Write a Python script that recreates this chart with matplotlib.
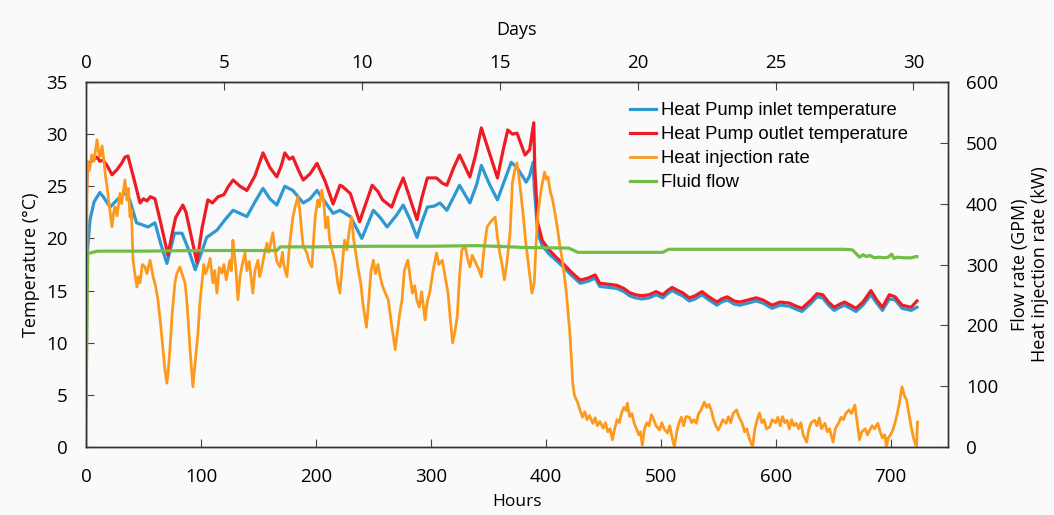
import matplotlib
matplotlib.use("Agg")
import matplotlib.pyplot as plt

plt.rcParams['font.family'] = ['Open Sans', 'DejaVu Sans']

# Heat pump outlet temperature (deg C) vs hours
red_h = [0, 0.9, 3.5, 6, 9.6, 12, 14.8, 18.3, 22.6, 27,
         31, 33.9, 36.5, 41, 47, 50, 53, 56, 60, 65,
         71.3, 75, 78, 84.3, 87, 90, 96.5, 101, 106, 110,
         115, 120, 124, 128, 134, 140, 147, 154, 160, 166,
         170, 173, 177, 180, 185, 189, 195, 201, 208, 215,
         221, 223, 230, 238, 244, 249, 254, 258, 266, 271,
         276, 282, 288, 292, 297, 305, 310, 314, 320, 325,
         334, 339, 344, 351, 358, 363, 367, 371, 375, 382,
         386, 389.6, 390.4, 393, 397, 403, 409, 415, 422, 430,
         437, 443, 447, 455, 462, 468, 473, 478, 484, 490,
         496, 502, 506, 510, 515, 519, 525, 530, 536, 542,
         549, 553, 558, 564, 569, 576, 583, 589, 597, 604,
         612, 618, 623, 627, 631, 636, 641, 646, 651, 656,
         660, 665, 670, 676, 683, 688, 693, 699, 704, 710,
         718, 723]
red_t = [22.5, 26.5, 27.3, 27.5, 27.8, 27.4, 27.5, 27.0, 26.1, 26.6,
         27.2, 27.8, 27.9, 26.0, 23.4, 23.8, 23.6, 24.0, 23.8, 21.5,
         18.4, 20.5, 22.0, 23.2, 22.5, 21.0, 17.7, 21.0, 23.7, 23.4,
         24.0, 24.2, 25.0, 25.6, 25.0, 24.6, 26.0, 28.2, 26.8, 25.9,
         27.0, 28.2, 27.6, 27.8, 26.5, 25.6, 26.2, 27.2, 25.5, 23.3,
         25.1, 25.0, 24.3, 21.6, 23.5, 25.1, 24.5, 23.7, 23.0, 24.5,
         25.8, 23.8, 21.8, 23.8, 25.8, 25.8, 25.3, 25.1, 26.8, 28.0,
         25.9, 28.0, 30.6, 28.2, 25.8, 28.5, 30.4, 30.0, 30.1, 28.0,
         28.5, 31.1, 27.0, 21.5, 19.8, 18.9, 18.2, 17.6, 16.8, 16.0,
         16.2, 16.5, 15.7, 15.6, 15.5, 15.2, 14.8, 14.6, 14.5, 14.6,
         14.9, 14.6, 15.0, 15.3, 15.0, 14.8, 14.3, 14.5, 14.9, 14.4,
         13.9, 14.2, 14.4, 14.0, 13.9, 14.1, 14.3, 14.1, 13.6, 13.9,
         13.8, 13.5, 13.3, 13.7, 14.1, 14.7, 14.6, 13.9, 13.4, 13.7,
         13.9, 13.6, 13.3, 13.9, 15.0, 14.1, 13.4, 14.6, 14.4, 13.6,
         13.4, 14.0]

# Heat pump inlet temperature (deg C) vs hours
blue_h = [0, 1, 3.5, 7, 12, 15, 21, 27, 34, 38,
          44, 49, 54, 60, 65, 70.4, 77, 83.5, 89, 95,
          100, 105, 114, 121, 128, 134, 140, 147, 154, 160,
          166, 173, 180, 189, 195, 201, 208, 215, 221, 230,
          240, 250, 256, 262, 270, 276, 282, 288, 292, 297,
          303, 308, 314, 320, 325, 334, 340, 344, 351, 358,
          364, 370, 375, 383, 386, 389, 390, 393, 397, 403,
          409, 415, 422, 430, 437, 443, 447, 455, 462, 468,
          473, 478, 484, 490, 496, 502, 506, 510, 515, 519,
          525, 530, 536, 542, 549, 553, 558, 564, 569, 576,
          583, 589, 597, 604, 612, 618, 623, 627, 631, 636,
          641, 646, 651, 656, 660, 665, 670, 676, 683, 688,
          693, 699, 704, 710, 718, 723]
blue_t = [16.3, 18.5, 21.8, 23.5, 24.4, 24.0, 23.0, 23.7, 24.4, 23.7,
          21.5, 21.3, 21.1, 21.5, 19.5, 17.6, 20.5, 20.5, 19.0, 17.0,
          18.5, 20.1, 20.8, 21.8, 22.7, 22.4, 22.1, 23.5, 24.8, 23.8,
          23.2, 25.0, 24.6, 23.4, 23.8, 24.6, 23.5, 22.4, 22.7, 22.1,
          20.0, 22.7, 22.0, 21.1, 22.2, 23.2, 21.8, 20.1, 21.5, 23.0,
          23.1, 23.4, 22.7, 24.0, 25.1, 23.4, 25.2, 27.0, 25.2, 23.7,
          25.5, 27.3, 26.8, 25.4, 26.0, 27.3, 25.0, 20.5, 19.3, 18.5,
          17.9, 17.3, 16.5, 15.7, 15.9, 16.2, 15.4, 15.3, 15.2, 14.9,
          14.5, 14.3, 14.2, 14.3, 14.6, 14.3, 14.7, 15.0, 14.7, 14.5,
          14.0, 14.2, 14.6, 14.1, 13.6, 13.9, 14.1, 13.7, 13.6, 13.8,
          14.0, 13.8, 13.3, 13.6, 13.5, 13.2, 13.0, 13.4, 13.8, 14.4,
          14.3, 13.6, 13.1, 13.4, 13.6, 13.3, 13.0, 13.6, 14.6, 13.8,
          13.1, 14.2, 14.1, 13.3, 13.1, 13.4]

# Heat injection rate (kW) vs hours
inj_h = [0, 0.5, 0.9, 3, 5, 7, 9.6, 11, 12.2, 14,
         15, 17, 18.3, 20, 22.6, 24, 25.2, 27, 29.6, 31,
         33.9, 35, 35.7, 37, 38.3, 39.5, 40.9, 42.5, 44.3, 45.5,
         47, 49, 51.3, 53, 55.7, 57, 58.3, 60.5, 62.6, 65,
         67, 68.5, 70.4, 71.5, 73, 75, 77.4, 79, 81.7, 83.5,
         86.1, 87.5, 88.7, 90.5, 93, 95, 97.4, 99, 100.9, 102.5,
         104, 106.1, 108, 110.4, 112, 113.9, 116, 118.3, 120, 122,
         125.2, 126.5, 127.8, 129, 130.5, 132.2, 134, 136, 138.3, 140,
         142, 145.2, 147, 149.6, 151, 153, 155, 157.4, 159, 162.6,
         164, 166, 168.7, 171, 172, 174.8, 177, 180, 182, 184.3,
         186, 187.8, 189, 192.2, 194, 196.5, 198, 199.5, 201.7, 203,
         205.2, 207, 208.5, 210.4, 212, 214.8, 217, 219, 220.9, 223,
         225, 227, 229, 231, 233, 236.5, 239, 241, 244, 246,
         248, 250, 252, 254, 256, 258, 260, 263, 266, 269,
         271, 273, 275, 277, 280, 282, 284, 286, 288, 290,
         292, 295, 297, 299, 302, 305, 307, 310, 312, 315,
         317, 319, 321, 323, 325, 327, 330, 332, 334, 336,
         338, 341, 344, 346, 349, 352, 356, 358, 360, 362,
         364, 366, 369, 371, 373, 375, 377, 379, 381, 383,
         385, 388, 390, 391.5, 393, 395, 396.5, 399, 400.5, 402,
         404, 406, 408, 410, 412, 414, 416, 418, 420, 421,
         422.5, 423.5, 425, 428, 430, 432, 434, 436, 438, 441,
         443, 445, 447, 450, 452, 454, 456, 458, 460, 462,
         464, 466, 468, 470, 471, 473, 475, 477, 479, 481,
         482.5, 484, 486, 488, 490, 492, 494, 496, 499, 501,
         503, 506, 508, 510, 512, 514, 516, 518, 520, 522,
         525, 527, 529, 531, 533, 535, 538, 540, 542, 544,
         546, 548, 550, 552, 554, 557, 559, 561, 563, 566,
         568, 571, 573, 575, 577, 580, 582, 584, 586, 588,
         590, 592, 595, 597, 600, 602, 604, 606, 608, 610,
         612, 614, 616, 618, 620, 622, 624, 627, 629, 631,
         634, 636, 638, 640, 643, 645, 647, 650, 652, 655,
         657, 659, 661, 664, 666, 669, 671, 673, 675, 678,
         680, 682, 684, 686, 689, 691, 693, 695, 696.5, 698,
         700, 702, 704, 706, 708, 710, 712, 714, 716, 718,
         720, 722.6, 723.5]
inj_kw = [0, 65, 470, 455, 480, 470, 505, 485, 477, 495,
          480, 445, 428, 400, 362, 385, 395, 380, 417, 400,
          439, 420, 406, 425, 378, 390, 307, 285, 263, 280,
          270, 300, 296, 285, 307, 295, 280, 265, 242, 200,
          160, 130, 105, 125, 160, 220, 270, 285, 296, 285,
          270, 245, 214, 160, 99, 140, 187, 235, 270, 300,
          285, 296, 310, 270, 290, 253, 295, 286, 300, 275,
          307, 290, 340, 320, 290, 242, 280, 300, 319, 290,
          305, 253, 290, 307, 280, 295, 315, 335, 320, 352,
          330, 305, 296, 320, 300, 280, 330, 378, 395, 411,
          390, 352, 330, 319, 305, 296, 340, 380, 406, 395,
          422, 400, 360, 378, 340, 319, 300, 270, 253, 300,
          340, 324, 355, 378, 340, 296, 270, 235, 197, 240,
          290, 307, 285, 300, 280, 265, 255, 242, 200, 160,
          190, 220, 242, 290, 307, 280, 253, 265, 240, 230,
          255, 209, 240, 253, 290, 319, 300, 307, 285, 253,
          210, 171, 190, 214, 280, 324, 329, 310, 296, 315,
          307, 295, 280, 320, 362, 370, 378, 345, 319, 300,
          275, 300, 352, 434, 455, 467, 440, 406, 370, 329,
          300, 253, 270, 330, 378, 410, 428, 452, 440, 444,
          420, 406, 385, 362, 335, 312, 285, 253, 210, 187,
          140, 105, 85, 72, 60, 49, 58, 45, 52, 39,
          48, 35, 42, 31, 40, 25, 30, 12, 30, 45,
          40, 56, 65, 60, 72, 50, 55, 39, 30, 20,
          25, 3, 30, 40, 35, 53, 45, 35, 28, 40,
          30, 23, 35, 15, 0, 25, 40, 49, 35, 50,
          49, 40, 45, 39, 55, 60, 74, 65, 70, 61,
          45, 35, 28, 35, 45, 39, 50, 40, 55, 61,
          50, 39, 25, 30, 15, 0, 30, 45, 56, 40,
          45, 30, 33, 45, 40, 49, 35, 50, 40, 44,
          30, 45, 35, 39, 30, 40, 20, 8, 30, 40,
          44, 35, 48, 30, 39, 25, 30, 8, 30, 40,
          49, 45, 55, 61, 55, 69, 40, 12, 25, 30,
          20, 28, 35, 30, 39, 25, 15, 20, 0, 15,
          20, 28, 40, 56, 75, 99, 85, 77, 55, 33,
          15, 0, 41]

# Fluid flow (GPM) vs hours
flow_h = [0, 0.8, 1.5, 10, 50, 100, 150, 166, 169, 200,
          250, 300, 340, 370, 380, 420, 428, 470, 502, 507,
          560, 620, 660, 667, 670, 673, 676, 679, 682, 686,
          690, 694, 698, 701, 703, 706, 712, 718, 722, 723]
flow_gpm = [72, 200, 318, 322, 322, 323, 323, 323, 329, 329,
            330, 330, 331, 329, 328, 327, 320, 320, 320, 325,
            325, 325, 325, 324, 318, 312, 316, 313, 315, 311,
            312, 311, 312, 317, 310, 312, 311, 311, 313, 313]

c_blue = '#2f98d2'
c_red = '#ee1c24'
c_orange = '#fd9a1e'
c_green = '#72bd45'

fig = plt.figure(figsize=(10.54, 5.15), dpi=100, facecolor='#fafafa')
ax = fig.add_axes([0.0816, 0.132, 0.8178, 0.7088])
ax.set_facecolor('#fafafa')

l1, = ax.plot(blue_h, blue_t, color=c_blue, lw=2.3, label='Heat Pump inlet temperature')
l2, = ax.plot(red_h, red_t, color=c_red, lw=2.3, label='Heat Pump outlet temperature')
ax.set_xlim(0, 750)
ax.set_ylim(0, 35)
ax.set_xticks(range(0, 701, 100))
ax.set_yticks(range(0, 36, 5))
ax.set_xlabel('Hours', fontsize=12.5, labelpad=6)
ax.set_ylabel('Temperature (°C)', fontsize=13, labelpad=5)

ax2 = ax.twinx()
l3, = ax2.plot(inj_h, inj_kw, color=c_orange, lw=2.0, label='Heat injection rate')
l4, = ax2.plot(flow_h, flow_gpm, color=c_green, lw=2.3, label='Fluid flow')
ax2.set_ylim(0, 600)
ax2.set_yticks(range(0, 601, 100))
ax2.set_ylabel('Flow rate (GPM)\nHeat injection rate (kW)', fontsize=13,
               labelpad=9, linespacing=1.15)

top = ax.secondary_xaxis('top', functions=(lambda h: h / 24.0, lambda d: d * 24.0))
top.set_xticks(range(0, 31, 5))
top.set_xlabel('Days', fontsize=13, labelpad=14)
top.tick_params(direction='in', length=6, labelsize=13.5, pad=7, color='#444444')

ax.tick_params(direction='in', length=6, labelsize=13.5, pad=13, color='#444444')
ax.tick_params(axis='x', pad=15)
ax2.tick_params(direction='in', length=6, labelsize=13.5, pad=13, color='#444444')
for a in (ax, ax2):
    for s in a.spines.values():
        s.set_color('#333333')
        s.set_linewidth(1.0)

ax2.legend(handles=[l1, l2, l3, l4], loc='upper left', bbox_to_anchor=(0.612, 0.99),
           frameon=False, handlelength=1.4, handletextpad=0.25, labelspacing=0.38,
           prop={'family': 'Liberation Sans', 'size': 13.3})

fig.savefig('out.png', dpi=100, facecolor=fig.get_facecolor())
